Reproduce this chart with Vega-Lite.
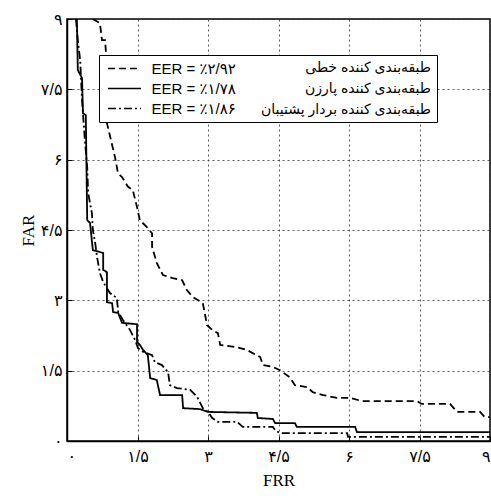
{
  "$schema": "https://vega.github.io/schema/vega-lite/v6.json",
  "width": 423,
  "height": 422,
  "autosize": {"type": "none"},
  "padding": {"left": 67, "top": 19, "right": 1, "bottom": 55},
  "background": "white",
  "config": {
    "view": {"stroke": "#000", "strokeWidth": 1.5},
    "axis": {
      "grid": true,
      "gridColor": "#333",
      "gridDash": [2, 3],
      "gridWidth": 0.8,
      "gridOpacity": 1,
      "domainColor": "#000",
      "domainWidth": 1.5,
      "tickColor": "#000",
      "tickSize": -5,
      "labelFont": "Liberation Sans, DejaVu Sans",
      "labelFontSize": 16,
      "labelColor": "#000",
      "titleFont": "Liberation Serif",
      "titleFontSize": 17,
      "titleFontWeight": "normal",
      "titleColor": "#000"
    }
  },
  "datasets": {
    "curves": [
      {"s": "linear", "name": "طبقه‌بندی کننده خطی", "i": 1, "FRR": 0.55, "FAR": 9.0},
      {"s": "linear", "name": "طبقه‌بندی کننده خطی", "i": 2, "FRR": 0.70, "FAR": 8.91},
      {"s": "linear", "name": "طبقه‌بندی کننده خطی", "i": 3, "FRR": 0.745, "FAR": 8.55},
      {"s": "linear", "name": "طبقه‌بندی کننده خطی", "i": 4, "FRR": 0.81, "FAR": 8.55},
      {"s": "linear", "name": "طبقه‌بندی کننده خطی", "i": 5, "FRR": 0.83, "FAR": 8.27},
      {"s": "linear", "name": "طبقه‌بندی کننده خطی", "i": 6, "FRR": 0.85, "FAR": 6.78},
      {"s": "linear", "name": "طبقه‌بندی کننده خطی", "i": 7, "FRR": 1.02, "FAR": 6.06},
      {"s": "linear", "name": "طبقه‌بندی کننده خطی", "i": 8, "FRR": 1.085, "FAR": 5.71},
      {"s": "linear", "name": "طبقه‌بندی کننده خطی", "i": 9, "FRR": 1.17, "FAR": 5.63},
      {"s": "linear", "name": "طبقه‌بندی کننده خطی", "i": 10, "FRR": 1.30, "FAR": 5.42},
      {"s": "linear", "name": "طبقه‌بندی کننده خطی", "i": 11, "FRR": 1.40, "FAR": 5.35},
      {"s": "linear", "name": "طبقه‌بندی کننده خطی", "i": 12, "FRR": 1.49, "FAR": 4.99},
      {"s": "linear", "name": "طبقه‌بندی کننده خطی", "i": 13, "FRR": 1.55, "FAR": 4.71},
      {"s": "linear", "name": "طبقه‌بندی کننده خطی", "i": 14, "FRR": 1.70, "FAR": 4.56},
      {"s": "linear", "name": "طبقه‌بندی کننده خطی", "i": 15, "FRR": 1.81, "FAR": 4.43},
      {"s": "linear", "name": "طبقه‌بندی کننده خطی", "i": 16, "FRR": 1.81, "FAR": 4.14},
      {"s": "linear", "name": "طبقه‌بندی کننده خطی", "i": 17, "FRR": 1.91, "FAR": 3.80},
      {"s": "linear", "name": "طبقه‌بندی کننده خطی", "i": 18, "FRR": 2.04, "FAR": 3.54},
      {"s": "linear", "name": "طبقه‌بندی کننده خطی", "i": 19, "FRR": 2.23, "FAR": 3.48},
      {"s": "linear", "name": "طبقه‌بندی کننده خطی", "i": 20, "FRR": 2.45, "FAR": 3.43},
      {"s": "linear", "name": "طبقه‌بندی کننده خطی", "i": 21, "FRR": 2.55, "FAR": 3.22},
      {"s": "linear", "name": "طبقه‌بندی کننده خطی", "i": 22, "FRR": 2.68, "FAR": 3.07},
      {"s": "linear", "name": "طبقه‌بندی کننده خطی", "i": 23, "FRR": 2.89, "FAR": 2.94},
      {"s": "linear", "name": "طبقه‌بندی کننده خطی", "i": 24, "FRR": 2.98, "FAR": 2.47},
      {"s": "linear", "name": "طبقه‌بندی کننده خطی", "i": 25, "FRR": 3.09, "FAR": 2.37},
      {"s": "linear", "name": "طبقه‌بندی کننده خطی", "i": 26, "FRR": 3.21, "FAR": 2.30},
      {"s": "linear", "name": "طبقه‌بندی کننده خطی", "i": 27, "FRR": 3.26, "FAR": 2.05},
      {"s": "linear", "name": "طبقه‌بندی کننده خطی", "i": 28, "FRR": 3.62, "FAR": 2.00},
      {"s": "linear", "name": "طبقه‌بندی کننده خطی", "i": 29, "FRR": 3.83, "FAR": 1.94},
      {"s": "linear", "name": "طبقه‌بندی کننده خطی", "i": 30, "FRR": 4.11, "FAR": 1.79},
      {"s": "linear", "name": "طبقه‌بندی کننده خطی", "i": 31, "FRR": 4.17, "FAR": 1.62},
      {"s": "linear", "name": "طبقه‌بندی کننده خطی", "i": 32, "FRR": 4.38, "FAR": 1.58},
      {"s": "linear", "name": "طبقه‌بندی کننده خطی", "i": 33, "FRR": 4.53, "FAR": 1.51},
      {"s": "linear", "name": "طبقه‌بندی کننده خطی", "i": 34, "FRR": 4.74, "FAR": 1.36},
      {"s": "linear", "name": "طبقه‌بندی کننده خطی", "i": 35, "FRR": 4.85, "FAR": 1.19},
      {"s": "linear", "name": "طبقه‌بندی کننده خطی", "i": 36, "FRR": 5.11, "FAR": 1.15},
      {"s": "linear", "name": "طبقه‌بندی کننده خطی", "i": 37, "FRR": 5.23, "FAR": 1.04},
      {"s": "linear", "name": "طبقه‌بندی کننده خطی", "i": 38, "FRR": 5.45, "FAR": 0.98},
      {"s": "linear", "name": "طبقه‌بندی کننده خطی", "i": 39, "FRR": 5.74, "FAR": 0.92},
      {"s": "linear", "name": "طبقه‌بندی کننده خطی", "i": 40, "FRR": 6.02, "FAR": 0.92},
      {"s": "linear", "name": "طبقه‌بندی کننده خطی", "i": 41, "FRR": 6.28, "FAR": 0.85},
      {"s": "linear", "name": "طبقه‌بندی کننده خطی", "i": 42, "FRR": 7.45, "FAR": 0.85},
      {"s": "linear", "name": "طبقه‌بندی کننده خطی", "i": 43, "FRR": 7.55, "FAR": 0.79},
      {"s": "linear", "name": "طبقه‌بندی کننده خطی", "i": 44, "FRR": 8.15, "FAR": 0.79},
      {"s": "linear", "name": "طبقه‌بندی کننده خطی", "i": 45, "FRR": 8.30, "FAR": 0.62},
      {"s": "linear", "name": "طبقه‌بندی کننده خطی", "i": 46, "FRR": 8.79, "FAR": 0.62},
      {"s": "linear", "name": "طبقه‌بندی کننده خطی", "i": 47, "FRR": 8.89, "FAR": 0.51},
      {"s": "linear", "name": "طبقه‌بندی کننده خطی", "i": 48, "FRR": 9.0, "FAR": 0.51},

      {"s": "parzen", "name": "طبقه‌بندی کننده پارزن", "i": 1, "FRR": 0.21, "FAR": 9.0},
      {"s": "parzen", "name": "طبقه‌بندی کننده پارزن", "i": 2, "FRR": 0.23, "FAR": 7.91},
      {"s": "parzen", "name": "طبقه‌بندی کننده پارزن", "i": 3, "FRR": 0.32, "FAR": 7.74},
      {"s": "parzen", "name": "طبقه‌بندی کننده پارزن", "i": 4, "FRR": 0.34, "FAR": 6.99},
      {"s": "parzen", "name": "طبقه‌بندی کننده پارزن", "i": 5, "FRR": 0.40, "FAR": 6.95},
      {"s": "parzen", "name": "طبقه‌بندی کننده پارزن", "i": 6, "FRR": 0.43, "FAR": 4.71},
      {"s": "parzen", "name": "طبقه‌بندی کننده پارزن", "i": 7, "FRR": 0.49, "FAR": 4.65},
      {"s": "parzen", "name": "طبقه‌بندی کننده پارزن", "i": 8, "FRR": 0.55, "FAR": 4.07},
      {"s": "parzen", "name": "طبقه‌بندی کننده پارزن", "i": 9, "FRR": 0.77, "FAR": 4.01},
      {"s": "parzen", "name": "طبقه‌بندی کننده پارزن", "i": 10, "FRR": 0.77, "FAR": 3.65},
      {"s": "parzen", "name": "طبقه‌بندی کننده پارزن", "i": 11, "FRR": 0.85, "FAR": 3.60},
      {"s": "parzen", "name": "طبقه‌بندی کننده پارزن", "i": 12, "FRR": 0.85, "FAR": 2.96},
      {"s": "parzen", "name": "طبقه‌بندی کننده پارزن", "i": 13, "FRR": 0.96, "FAR": 2.94},
      {"s": "parzen", "name": "طبقه‌بندی کننده پارزن", "i": 14, "FRR": 0.98, "FAR": 2.75},
      {"s": "parzen", "name": "طبقه‌بندی کننده پارزن", "i": 15, "FRR": 1.09, "FAR": 2.73},
      {"s": "parzen", "name": "طبقه‌بندی کننده پارزن", "i": 16, "FRR": 1.17, "FAR": 2.52},
      {"s": "parzen", "name": "طبقه‌بندی کننده پارزن", "i": 17, "FRR": 1.49, "FAR": 2.49},
      {"s": "parzen", "name": "طبقه‌بندی کننده پارزن", "i": 18, "FRR": 1.49, "FAR": 2.11},
      {"s": "parzen", "name": "طبقه‌بندی کننده پارزن", "i": 19, "FRR": 1.55, "FAR": 2.05},
      {"s": "parzen", "name": "طبقه‌بندی کننده پارزن", "i": 20, "FRR": 1.62, "FAR": 1.94},
      {"s": "parzen", "name": "طبقه‌بندی کننده پارزن", "i": 21, "FRR": 1.72, "FAR": 1.83},
      {"s": "parzen", "name": "طبقه‌بندی کننده پارزن", "i": 22, "FRR": 1.77, "FAR": 1.34},
      {"s": "parzen", "name": "طبقه‌بندی کننده پارزن", "i": 23, "FRR": 1.91, "FAR": 1.30},
      {"s": "parzen", "name": "طبقه‌بندی کننده پارزن", "i": 24, "FRR": 1.98, "FAR": 0.98},
      {"s": "parzen", "name": "طبقه‌بندی کننده پارزن", "i": 25, "FRR": 2.45, "FAR": 0.98},
      {"s": "parzen", "name": "طبقه‌بندی کننده پارزن", "i": 26, "FRR": 2.47, "FAR": 0.70},
      {"s": "parzen", "name": "طبقه‌بندی کننده پارزن", "i": 27, "FRR": 2.83, "FAR": 0.68},
      {"s": "parzen", "name": "طبقه‌بندی کننده پارزن", "i": 28, "FRR": 3.00, "FAR": 0.62},
      {"s": "parzen", "name": "طبقه‌بندی کننده پارزن", "i": 29, "FRR": 4.04, "FAR": 0.60},
      {"s": "parzen", "name": "طبقه‌بندی کننده پارزن", "i": 30, "FRR": 4.06, "FAR": 0.49},
      {"s": "parzen", "name": "طبقه‌بندی کننده پارزن", "i": 31, "FRR": 4.38, "FAR": 0.47},
      {"s": "parzen", "name": "طبقه‌بندی کننده پارزن", "i": 32, "FRR": 4.43, "FAR": 0.38},
      {"s": "parzen", "name": "طبقه‌بندی کننده پارزن", "i": 33, "FRR": 4.85, "FAR": 0.38},
      {"s": "parzen", "name": "طبقه‌بندی کننده پارزن", "i": 34, "FRR": 4.89, "FAR": 0.30},
      {"s": "parzen", "name": "طبقه‌بندی کننده پارزن", "i": 35, "FRR": 6.13, "FAR": 0.30},
      {"s": "parzen", "name": "طبقه‌بندی کننده پارزن", "i": 36, "FRR": 6.17, "FAR": 0.19},
      {"s": "parzen", "name": "طبقه‌بندی کننده پارزن", "i": 37, "FRR": 9.0, "FAR": 0.19},

      {"s": "svm", "name": "طبقه‌بندی کننده بردار پشتیبان", "i": 1, "FRR": 0.19, "FAR": 9.0},
      {"s": "svm", "name": "طبقه‌بندی کننده بردار پشتیبان", "i": 2, "FRR": 0.23, "FAR": 8.55},
      {"s": "svm", "name": "طبقه‌بندی کننده بردار پشتیبان", "i": 3, "FRR": 0.28, "FAR": 8.12},
      {"s": "svm", "name": "طبقه‌بندی کننده بردار پشتیبان", "i": 4, "FRR": 0.32, "FAR": 7.27},
      {"s": "svm", "name": "طبقه‌بندی کننده بردار پشتیبان", "i": 5, "FRR": 0.38, "FAR": 6.42},
      {"s": "svm", "name": "طبقه‌بندی کننده بردار پشتیبان", "i": 6, "FRR": 0.43, "FAR": 5.84},
      {"s": "svm", "name": "طبقه‌بندی کننده بردار پشتیبان", "i": 7, "FRR": 0.45, "FAR": 5.29},
      {"s": "svm", "name": "طبقه‌بندی کننده بردار پشتیبان", "i": 8, "FRR": 0.53, "FAR": 4.86},
      {"s": "svm", "name": "طبقه‌بندی کننده بردار پشتیبان", "i": 9, "FRR": 0.55, "FAR": 4.50},
      {"s": "svm", "name": "طبقه‌بندی کننده بردار پشتیبان", "i": 10, "FRR": 0.60, "FAR": 4.22},
      {"s": "svm", "name": "طبقه‌بندی کننده بردار پشتیبان", "i": 11, "FRR": 0.64, "FAR": 3.92},
      {"s": "svm", "name": "طبقه‌بندی کننده بردار پشتیبان", "i": 12, "FRR": 0.70, "FAR": 3.58},
      {"s": "svm", "name": "طبقه‌بندی کننده بردار پشتیبان", "i": 13, "FRR": 0.77, "FAR": 3.39},
      {"s": "svm", "name": "طبقه‌بندی کننده بردار پشتیبان", "i": 14, "FRR": 0.91, "FAR": 3.16},
      {"s": "svm", "name": "طبقه‌بندی کننده بردار پشتیبان", "i": 15, "FRR": 1.06, "FAR": 3.05},
      {"s": "svm", "name": "طبقه‌بندی کننده بردار پشتیبان", "i": 16, "FRR": 1.09, "FAR": 2.75},
      {"s": "svm", "name": "طبقه‌بندی کننده بردار پشتیبان", "i": 17, "FRR": 1.19, "FAR": 2.58},
      {"s": "svm", "name": "طبقه‌بندی کننده بردار پشتیبان", "i": 18, "FRR": 1.34, "FAR": 2.37},
      {"s": "svm", "name": "طبقه‌بندی کننده بردار پشتیبان", "i": 19, "FRR": 1.45, "FAR": 2.15},
      {"s": "svm", "name": "طبقه‌بندی کننده بردار پشتیبان", "i": 20, "FRR": 1.51, "FAR": 1.98},
      {"s": "svm", "name": "طبقه‌بندی کننده بردار پشتیبان", "i": 21, "FRR": 1.62, "FAR": 1.90},
      {"s": "svm", "name": "طبقه‌بندی کننده بردار پشتیبان", "i": 22, "FRR": 1.81, "FAR": 1.83},
      {"s": "svm", "name": "طبقه‌بندی کننده بردار پشتیبان", "i": 23, "FRR": 1.87, "FAR": 1.68},
      {"s": "svm", "name": "طبقه‌بندی کننده بردار پشتیبان", "i": 24, "FRR": 2.02, "FAR": 1.62},
      {"s": "svm", "name": "طبقه‌بندی کننده بردار پشتیبان", "i": 25, "FRR": 2.15, "FAR": 1.47},
      {"s": "svm", "name": "طبقه‌بندی کننده بردار پشتیبان", "i": 26, "FRR": 2.19, "FAR": 1.19},
      {"s": "svm", "name": "طبقه‌بندی کننده بردار پشتیبان", "i": 27, "FRR": 2.34, "FAR": 1.13},
      {"s": "svm", "name": "طبقه‌بندی کننده بردار پشتیبان", "i": 28, "FRR": 2.62, "FAR": 1.09},
      {"s": "svm", "name": "طبقه‌بندی کننده بردار پشتیبان", "i": 29, "FRR": 2.77, "FAR": 0.94},
      {"s": "svm", "name": "طبقه‌بندی کننده بردار پشتیبان", "i": 30, "FRR": 2.89, "FAR": 0.70},
      {"s": "svm", "name": "طبقه‌بندی کننده بردار پشتیبان", "i": 31, "FRR": 3.00, "FAR": 0.62},
      {"s": "svm", "name": "طبقه‌بندی کننده بردار پشتیبان", "i": 32, "FRR": 3.09, "FAR": 0.49},
      {"s": "svm", "name": "طبقه‌بندی کننده بردار پشتیبان", "i": 33, "FRR": 3.21, "FAR": 0.41},
      {"s": "svm", "name": "طبقه‌بندی کننده بردار پشتیبان", "i": 34, "FRR": 3.62, "FAR": 0.41},
      {"s": "svm", "name": "طبقه‌بندی کننده بردار پشتیبان", "i": 35, "FRR": 3.74, "FAR": 0.30},
      {"s": "svm", "name": "طبقه‌بندی کننده بردار پشتیبان", "i": 36, "FRR": 4.38, "FAR": 0.30},
      {"s": "svm", "name": "طبقه‌بندی کننده بردار پشتیبان", "i": 37, "FRR": 4.43, "FAR": 0.23},
      {"s": "svm", "name": "طبقه‌بندی کننده بردار پشتیبان", "i": 38, "FRR": 4.53, "FAR": 0.17},
      {"s": "svm", "name": "طبقه‌بندی کننده بردار پشتیبان", "i": 39, "FRR": 5.96, "FAR": 0.17},
      {"s": "svm", "name": "طبقه‌بندی کننده بردار پشتیبان", "i": 40, "FRR": 5.98, "FAR": 0.09},
      {"s": "svm", "name": "طبقه‌بندی کننده بردار پشتیبان", "i": 41, "FRR": 9.0, "FAR": 0.09}
    ]
  },
  "data": {"name": "curves"},
  "mark": {"type": "line", "clip": true, "color": "#000", "interpolate": "linear"},
  "encoding": {
    "x": {
      "field": "FRR", "type": "quantitative",
      "scale": {"domain": [0, 9], "nice": false, "zero": false},
      "axis": {
        "values": [0, 1.5, 3, 4.5, 6, 7.5, 9],
        "title": "FRR",
        "titleBaseline": "alphabetic",
        "titleY": 44,
        "labelPadding": 12,
        "labelExpr": "datum.value == 0 ? '۰' : datum.value == 1.5 ? '۱/۵' : datum.value == 3 ? '۳' : datum.value == 4.5 ? '۴/۵' : datum.value == 6 ? '۶' : datum.value == 7.5 ? '۷/۵' : '۹'"
      }
    },
    "y": {
      "field": "FAR", "type": "quantitative",
      "scale": {"domain": [0, 9], "nice": false, "zero": false},
      "axis": {
        "values": [0, 1.5, 3, 4.5, 6, 7.5, 9],
        "title": "FAR",
        "titleBaseline": "alphabetic",
        "titleX": -34,
        "labelPadding": 10,
        "labelExpr": "datum.value == 0 ? '۰' : datum.value == 1.5 ? '۱/۵' : datum.value == 3 ? '۳' : datum.value == 4.5 ? '۴/۵' : datum.value == 6 ? '۶' : datum.value == 7.5 ? '۷/۵' : '۹'"
      }
    },
    "strokeDash": {
      "field": "s", "type": "nominal",
      "scale": {"domain": ["linear", "parzen", "svm"], "range": [[7, 4], [1, 0], [8, 3, 2, 3]]},
      "legend": {
        "title": null,
        "orient": "none",
        "legendX": 32,
        "legendY": 36,
        "padding": 2.5,
        "symbolOffset": 12,
        "symbolType": "M-1.65,0H1.65",
        "symbolSize": 400,
        "symbolStrokeWidth": 1.5,
        "symbolStrokeColor": "#000",
        "labelOffset": 16,
        "labelFont": "Liberation Sans, DejaVu Sans",
        "labelFontSize": 15,
        "labelColor": "#000",
        "labelLimit": 600,
        "rowPadding": 1,
        "labelExpr": "datum.value == 'linear' ? 'EER = ٪۲/۹۲' : datum.value == 'parzen' ? 'EER = ٪۱/۷۸' : 'EER = ٪۱/۸۶'"
      }
    },
    "size": {
      "field": "name", "type": "nominal",
      "scale": {"domain": ["طبقه‌بندی کننده خطی", "طبقه‌بندی کننده پارزن", "طبقه‌بندی کننده بردار پشتیبان"], "range": [1.8, 1.8, 1.8]},
      "legend": {
        "title": null,
        "orient": "none",
        "legendX": 32,
        "legendY": 36,
        "padding": 5.5,
        "symbolOpacity": 0,
        "symbolStrokeWidth": 0,
        "labelAlign": "right",
        "labelOffset": 312.5,
        "labelFont": "Liberation Sans, DejaVu Sans",
        "labelFontSize": 14,
        "labelColor": "#000",
        "labelLimit": 600,
        "rowPadding": 7,
        "strokeColor": "#000",
        "fillColor": "#fff"
      }
    },
    "order": {"field": "i", "type": "quantitative"}
  }
}
